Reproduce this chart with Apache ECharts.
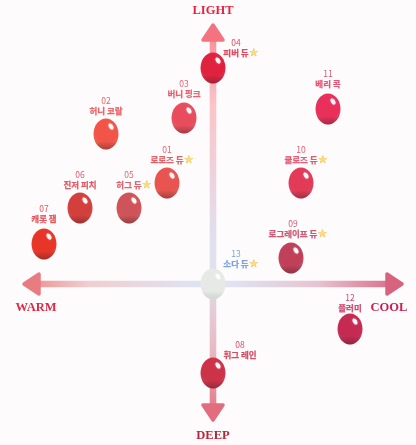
<!DOCTYPE html>
<html>
<head>
<meta charset="utf-8">
<style>html,body{margin:0;padding:0;background:#fefbfd}#c{width:416px;height:445px}</style>
<script src="https://cdn.jsdelivr.net/npm/echarts@6/dist/echarts.min.js"></script>
</head>
<body>
<div id="c"></div>
<script>
// Data
var numbers = ['01','02','03','04','05','06','07','08','09','10','11','12','13'];
var names = ['로로즈 듀','허니 코랄','버니 핑크','피버 듀','허그 듀','진저 피치','캐롯 잼','휘그 레인','로그레이프 듀','쿨로즈 듀','베리 콕','플러미','소다 듀'];
var warmCool = [-46,-107,-29,0,-84,-133,-169,0,78,88,115,137,0];
var lightDeep = [101,150,166,216,76,76,40,-89,26,101,175,-45,0];
var starred = [1,0,0,1,1,0,0,0,1,1,0,0,1];
var colors = ['#e8544f','#f25547','#e84d5e','#e0223f','#cf5459','#d33f3c','#e73628','#cc3348','#c04059','#e23b58','#e8305a','#c42a52','#e6e9e6'];
var textColors = ['#e2646a','#ea6266','#ea5f6e','#e24a60','#dc6670','#dc5c66','#e4565c','#d24e64','#cc5a72','#e25c76','#e25676','#cc4c74','#7ba4de'];
var axisNames = ['LIGHT','DEEP','WARM','COOL'];
var axisNameColors = ['#e8223f','#b8243a','#dd2a45','#c81e50'];

var labelFamily = '"Noto Sans CJK KR","Noto Sans",sans-serif';
var nameFont = '700 8.5px ' + labelFamily;
var measure = document.createElement('canvas').getContext('2d');

function grad(x2, y2, stops) {
  return new echarts.graphic.LinearGradient(0, 0, x2, y2, stops.map(function (s) {
    return {offset: s[0], color: s[1]};
  }));
}

// Arrow geometry in axis units
var shaftHalf = 3.3, headLen = 15, headHalf = 10;

function renderArrows(params, api) {
  var c = function (x, y) { return api.coord([x, y]); };
  var tri = function (tip, a, b, col) {
    return {type: 'polygon', shape: {points: [tip, a, b]},
      style: {fill: col, stroke: col, lineWidth: 3.5, lineJoin: 'round'}};
  };
  var r = 189, h = headLen, up = 259, down = -136;
  var L = c(-r + h, shaftHalf), R = c(r - h, -shaftHalf);
  var T = c(-shaftHalf, up - h), B = c(shaftHalf, down + h);
  return {type: 'group', children: [
    {type: 'rect', shape: {x: L[0], y: L[1], width: R[0] - L[0], height: R[1] - L[1]},
      style: {fill: grad(1, 0, [[0,'#ec9a9a'],[0.14,'#f0ced0'],[0.44,'#dfe3f1'],[0.56,'#dfe3f1'],[0.8,'#e6c4d0'],[1,'#da7690']])}},
    tri(c(-r, 0), c(-r + h, headHalf), c(-r + h, -headHalf), '#e97c80'),
    tri(c(r, 0), c(r - h, headHalf), c(r - h, -headHalf), '#d6647f'),
    {type: 'rect', shape: {x: T[0], y: T[1], width: B[0] - T[0], height: B[1] - T[1]},
      style: {fill: grad(0, 1, [[0,'#f9929c'],[0.18,'#fbc4c9'],[0.56,'#dfe1ef'],[0.62,'#dfe1ef'],[0.85,'#e8bac2'],[1,'#e2808e']])}},
    tri(c(0, up), c(-headHalf, up - h), c(headHalf, up - h), '#f4737f'),
    tri(c(0, down), c(-headHalf, down + h), c(headHalf, down + h), '#e26d7e')
  ]};
}

function renderBead(params, api) {
  var i = params.dataIndex;
  var p = api.coord([api.value(0), api.value(1)]);
  var col = colors[i];
  var light = i === 12;
  var mk = echarts.color.lift;
  return {type: 'group', children: [
    {type: 'ellipse', shape: {cx: p[0], cy: p[1], rx: 12.5, ry: 15.5},
      style: {fill: new echarts.graphic.RadialGradient(0.5, 0.42, 0.62, [
        {offset: 0, color: col},
        {offset: 0.7, color: col},
        {offset: 1, color: mk(col, light ? 0.03 : 0.06)}
      ])}},
    {type: 'ellipse', shape: {cx: p[0], cy: p[1], rx: 12.5, ry: 15.5},
      style: {fill: grad(0, 1, [[0,'rgba(0,0,0,0)'],[0.74,'rgba(0,0,0,0)'],[1, light ? 'rgba(120,130,120,0.15)' : 'rgba(70,0,10,0.38)']])}},
    {type: 'ellipse', x: p[0] + 5, y: p[1] - 7.5, rotation: 0.6,
      shape: {cx: 0, cy: 0, rx: 2, ry: 3.4},
      style: {fill: light ? 'rgba(255,255,255,0.7)' : 'rgba(255,255,255,0.9)', shadowBlur: 1.5, shadowColor: 'rgba(255,255,255,0.7)'}}
  ]};
}

// Beads sitting on an axis carry their label beside the axis
var labelShift = {'03':[0,34],'04':[23,25],'08':[27,28],'09':[2,34],'12':[0,31],'13':[23,30],'07':[0,35],'11':[0,35]};

function renderLabel(params, api) {
  var i = params.dataIndex;
  var p = api.coord([api.value(0), api.value(1)]);
  var s = labelShift[numbers[i]] || [0, 33];
  var x = p[0] + s[0], y = p[1] - s[1];
  measure.font = nameFont;
  var half = measure.measureText(names[i]).width / 2;
  var children = [
    {type: 'text', x: x, y: y, style: {text: numbers[i], align: 'center', verticalAlign: 'middle',
      font: '400 8.5px ' + labelFamily, fill: textColors[i]}},
    {type: 'text', x: x, y: y + 10, style: {text: names[i], align: 'center', verticalAlign: 'middle',
      font: nameFont, fill: textColors[i], stroke: textColors[i], lineWidth: 0.25}}
  ];
  if (starred[i]) {
    children.push({type: 'text', x: x + half + 5, y: y + 10, style: {text: '★', align: 'center', verticalAlign: 'middle',
      font: '10.5px "DejaVu Sans"', fill: '#f9dc7a', stroke: '#eeb04a', lineWidth: 0.5}});
  }
  return {type: 'group', children: children};
}

var axisNamePos = [[0, 273], [0, -152], [-177, -24], [176, -24]];

function renderAxisName(params, api) {
  var i = params.dataIndex;
  var p = api.coord(axisNamePos[i]);
  return {type: 'text', x: p[0], y: p[1], style: {
    text: axisNames[i], align: 'center', verticalAlign: 'middle',
    font: '700 12.5px "Liberation Serif",serif', fill: axisNameColors[i]}};
}

var points = warmCool.map(function (x, i) { return [x, lightDeep[i]]; });

var chart = echarts.init(document.getElementById('c'), null, {renderer: 'canvas'});
chart.setOption({
  animation: false,
  backgroundColor: '#fefbfd',
  grid: {left: 0, right: 0, top: 0, bottom: 0},
  xAxis: {type: 'value', min: -213, max: 203, show: false},
  yAxis: {type: 'value', min: -161, max: 284, show: false},
  series: [
    {type: 'custom', silent: true, z: 1, clip: false, data: [[0, 0]], renderItem: renderArrows},
    {type: 'custom', silent: true, z: 2, clip: false, data: points, renderItem: renderBead},
    {type: 'custom', silent: true, z: 3, clip: false, data: points, renderItem: renderLabel},
    {type: 'custom', silent: true, z: 3, clip: false, data: axisNames, renderItem: renderAxisName}
  ]
});
</script>
</body>
</html>
